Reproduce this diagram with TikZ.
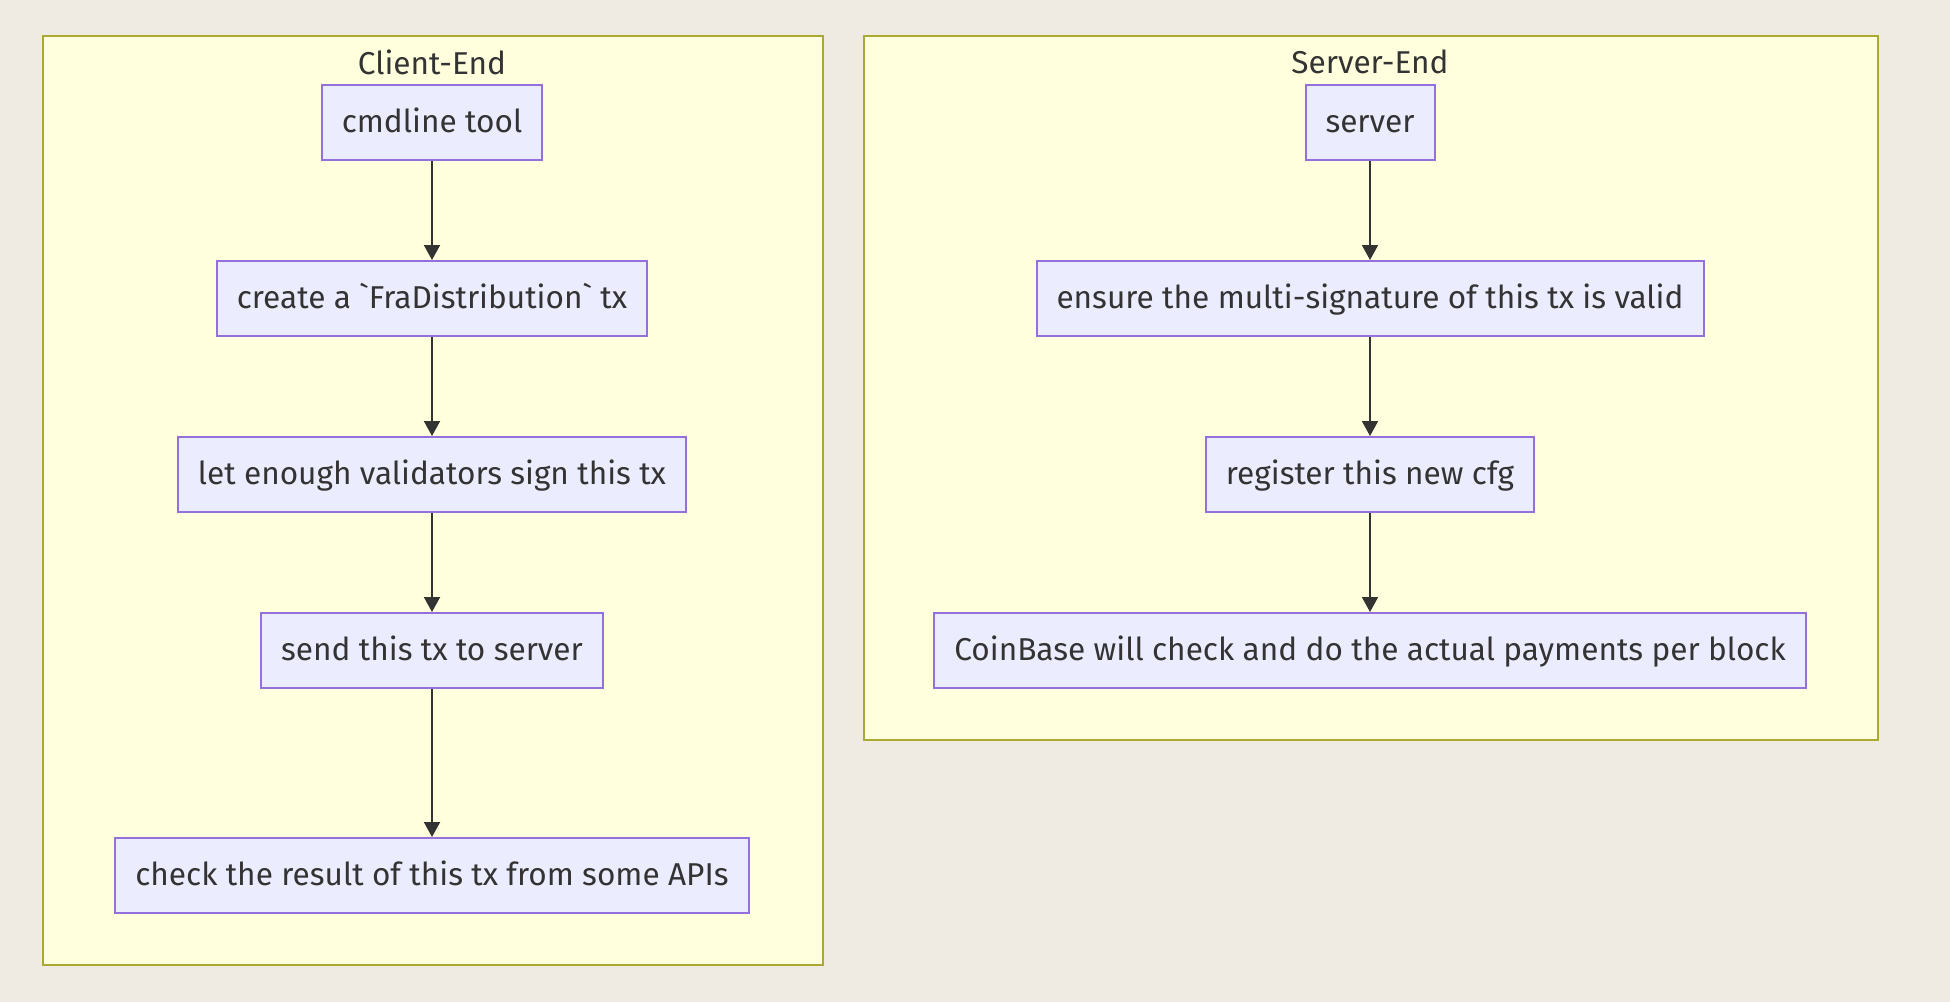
\documentclass[tikz,border=0pt]{standalone}
\usepackage{fontspec}
\setmainfont{Fira Sans}
\usepackage{xcolor}
\usepackage{tikz}
\usetikzlibrary{positioning,arrows.meta}
\definecolor{canvas}{HTML}{EFEBE2}
\definecolor{clusterfill}{HTML}{FFFFDE}
\definecolor{clusterline}{HTML}{AAAA33}
\definecolor{nodefill}{HTML}{ECECFF}
\definecolor{nodeline}{HTML}{9370DB}
\definecolor{ink}{HTML}{333333}

\begin{document}
\begin{tikzpicture}[x=0.5pt, y=-0.5pt, font=\fontsize{15.8}{19}\selectfont, text=ink]
    \tikzstyle{cluster} = [draw=clusterline, fill=clusterfill, line width=1pt, rectangle, anchor=north west]
    \tikzstyle{stepbox} = [draw=nodeline, fill=nodefill, line width=1pt, rectangle, minimum height=37.5pt, inner xsep=10pt, text height=12.5pt, text depth=2.5pt]
    \tikzstyle{flow} = [draw=ink, line width=1pt, -{Triangle[length=7.5pt, width=8pt]}]

    % page and the two groups
    \fill[canvas] (0,0) rectangle (1950,1002);
    \useasboundingbox (0,0) rectangle (1950,1002);
    \node [cluster, minimum width=390pt, minimum height=464.5pt] (client) at (42,35) {};
    \node [cluster, minimum width=507pt, minimum height=352pt] (serverend) at (863,35) {};
    \node (clientlabel) at (432,62) {Client-End};
    \node (serverlabel) at (1370,62) {Server-End};

    % client side
    \node [stepbox] (cmd) at (432,122.5) {cmdline tool};
    \node [stepbox, below=49.5pt of cmd] (create) {create a \textasciigrave FraDistribution\textasciigrave{} tx};
    \node [stepbox, below=49.5pt of create] (sign) {let enough validators sign this tx};
    \node [stepbox, below=49.5pt of sign] (send) {send this tx to server};
    \node [stepbox, below=74pt of send] (check) {check the result of this tx from some APIs};

    % server side
    \node [stepbox] (srv) at (1370,122.5) {server};
    \node [stepbox, below=49.5pt of srv] (ensure) {ensure the multi-signature of this tx is valid};
    \node [stepbox, below=49.5pt of ensure] (register) {register this new cfg};
    \node [stepbox, below=49.5pt of register] (coinbase) {CoinBase will check and do the actual payments per block};

    \draw [flow] (cmd) -- (create);
    \draw [flow] (create) -- (sign);
    \draw [flow] (sign) -- (send);
    \draw [flow] (send) -- (check);
    \draw [flow] (srv) -- (ensure);
    \draw [flow] (ensure) -- (register);
    \draw [flow] (register) -- (coinbase);
\end{tikzpicture}
\end{document}
